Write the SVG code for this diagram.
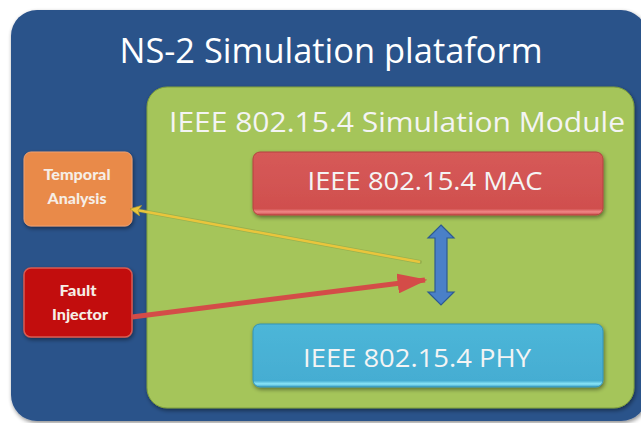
<svg xmlns="http://www.w3.org/2000/svg" width="641" height="423" viewBox="0 0 641 423">
  <defs>
    <style>
      .title { font-family: "Open Sans", "Noto Sans", sans-serif; fill: #ffffff; text-anchor: middle; }
      .lbl { font-family: "Open Sans", "Noto Sans", sans-serif; fill: #f4f4f4; text-anchor: middle; }
      .small { font-family: Lato, "Open Sans", sans-serif; font-weight: 900; font-size: 15.5px; fill: #f6eee6; text-anchor: middle; }
    </style>
    <filter id="shadow" x="-10%" y="-10%" width="120%" height="130%">
      <feGaussianBlur in="SourceAlpha" stdDeviation="2"/>
      <feOffset dx="1" dy="2"/>
      <feComponentTransfer><feFuncA type="linear" slope="0.45"/></feComponentTransfer>
      <feMerge><feMergeNode/><feMergeNode in="SourceGraphic"/></feMerge>
    </filter>
    <linearGradient id="gMac" x1="0" y1="0" x2="0" y2="1">
      <stop offset="0" stop-color="#d65a58"/>
      <stop offset="0.9" stop-color="#d04f4e"/>
      <stop offset="0.95" stop-color="#f08888"/>
      <stop offset="1" stop-color="#c94a48"/>
    </linearGradient>
    <linearGradient id="gPhy" x1="0" y1="0" x2="0" y2="1">
      <stop offset="0" stop-color="#4db6d8"/>
      <stop offset="0.9" stop-color="#45add2"/>
      <stop offset="0.95" stop-color="#8be6f8"/>
      <stop offset="1" stop-color="#3aa0c6"/>
    </linearGradient>
    <marker id="headYellow" viewBox="0 0 10 10" refX="9" refY="5" markerWidth="4.5" markerHeight="4.5" orient="auto">
      <path d="M0,0 L10,5 L0,10 L2.5,5 z" fill="#e9c53c" stroke="#9a8a30" stroke-width="0.5"/>
    </marker>
    <marker id="headRed" viewBox="0 0 12 8" refX="11" refY="4" markerWidth="6" markerHeight="4" orient="auto">
      <path d="M0,0 L12,4 L0,8 z" fill="#d44c48"/>
    </marker>
  </defs>

  <!-- outer platform panel -->
  <g id="platform">
    <rect x="11" y="10" width="636" height="411" rx="26" fill="#2b528a" filter="url(#shadow)"/>
    <text class="title" x="331" y="63" font-size="35" textLength="423" lengthAdjust="spacingAndGlyphs">NS-2 Simulation plataform</text>
  </g>

  <!-- simulation module panel -->
  <g id="module">
    <rect x="147" y="87" width="487" height="321" rx="20" fill="#a5c55a" stroke="#7f9e3c" stroke-width="1" filter="url(#shadow)"/>
    <text class="lbl" x="397" y="132" font-size="27" textLength="456" lengthAdjust="spacingAndGlyphs">IEEE 802.15.4 Simulation Module</text>
  </g>

  <g id="mac">
    <rect x="253" y="152" width="350" height="63" rx="7" fill="url(#gMac)" stroke="#b54340" stroke-width="1" filter="url(#shadow)"/>
    <text class="lbl" x="425" y="190" font-size="25" textLength="235" lengthAdjust="spacingAndGlyphs">IEEE 802.15.4 MAC</text>
  </g>

  <g id="phy">
    <rect x="253" y="324" width="350" height="63" rx="7" fill="url(#gPhy)" stroke="#3493b8" stroke-width="1" filter="url(#shadow)"/>
    <text class="lbl" x="417" y="367" font-size="26" textLength="228" lengthAdjust="spacingAndGlyphs">IEEE 802.15.4 PHY</text>
  </g>

  <g id="temporal">
    <rect x="24" y="152" width="108" height="74" rx="7" fill="#e98a48" stroke="#f0a070" stroke-width="1" filter="url(#shadow)"/>
    <text class="small" x="77" y="180" textLength="67" lengthAdjust="spacingAndGlyphs">Temporal</text>
    <text class="small" x="77" y="204" textLength="59" lengthAdjust="spacingAndGlyphs">Analysis</text>
  </g>

  <g id="fault">
    <rect x="24" y="268" width="108" height="69" rx="7" fill="#c20d0d" stroke="#d95a50" stroke-width="1.5" filter="url(#shadow)"/>
    <text class="small" x="78" y="296" textLength="37" lengthAdjust="spacingAndGlyphs">Fault</text>
    <text class="small" x="80" y="320" textLength="56" lengthAdjust="spacingAndGlyphs">Injector</text>
  </g>

  <!-- connectors -->
  <g id="connectors">
    <!-- module to temporal analysis -->
    <line x1="420" y1="262" x2="134" y2="209.5" stroke="#8a9a40" stroke-width="4" stroke-linecap="round" opacity="0.45"/>
    <line x1="420" y1="262" x2="131" y2="209" stroke="#e9c53c" stroke-width="2.5" marker-end="url(#headYellow)"/>
    <!-- fault injector into module -->
    <line x1="132" y1="317" x2="425" y2="280" stroke="#d44c48" stroke-width="5" marker-end="url(#headRed)"/>
    <!-- MAC <-> PHY -->
    <path d="M441,225 L454,238 L447,238 L447,292 L454,292 L441,305 L428,292 L435,292 L435,238 L428,238 Z" fill="#4a80c8" stroke="#2d5a92" stroke-width="1.2"/>
  </g>
</svg>
